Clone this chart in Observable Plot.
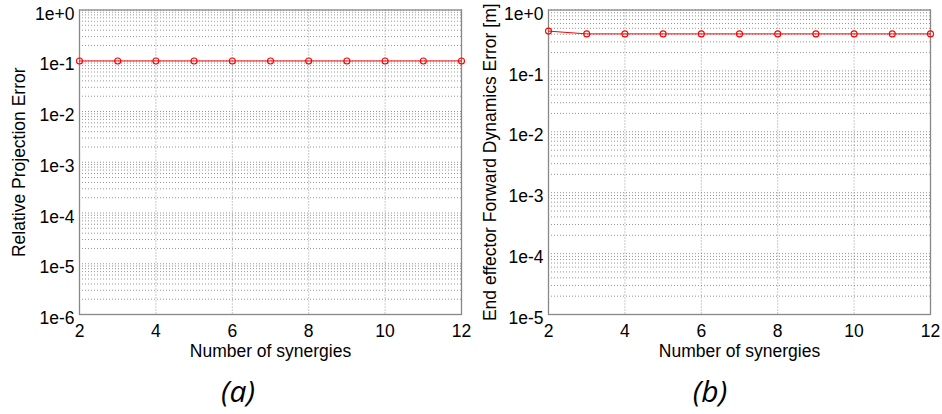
<!DOCTYPE html>
<html><head><meta charset="utf-8">
<script src="https://cdn.jsdelivr.net/npm/d3@7"></script>
<script src="https://cdn.jsdelivr.net/npm/@observablehq/plot@0.6"></script>
<style>
body{margin:0;background:#fff;}
#wrap{position:relative;width:942px;height:414px;}
.panel{position:absolute;top:0;}
.cap{position:absolute;top:371px;font-family:"Open Sans",sans-serif;font-style:italic;font-size:30px;line-height:40px;transform:translateX(-50%);color:#000;}
</style></head>
<body><div id="wrap"></div>
<script>
const synergies = [2,3,4,5,6,7,8,9,10,11,12];
const projErr = [0.099,0.099,0.099,0.099,0.099,0.099,0.099,0.099,0.099,0.099,0.099];
const fdErr = [0.45,0.405,0.405,0.405,0.405,0.405,0.405,0.405,0.405,0.405,0.405];
const xTicks = [2,4,6,8,10,12];
const yTicksA = [1e-6,1e-5,1e-4,1e-3,1e-2,1e-1,1];
const yTicksB = [1e-5,1e-4,1e-3,1e-2,1e-1,1];
const labelA = "Relative Projection Error";
const labelB = "End effector Forward Dynamics Error [m]";
const xLabel = "Number of synergies";
const captions = ["(a)","(b)"];

function minors(majors){
  const out=[];
  for(let i=0;i<majors.length-1;i++) for(let k=1;k<10;k++) out.push(majors[i]*k);
  out.push(majors[majors.length-1]);
  return out;
}
const fmt = d => { const e=Math.round(Math.log10(d)); return "1e"+(e>=0?"+"+e:e); };

function panel(values, yTicks, ylabel, ml, mr){
  const data = synergies.map((s,i)=>({x:s,y:values[i]}));
  return Plot.plot({
    width:471, height:365,
    marginLeft:ml, marginRight:mr, marginTop:9.5, marginBottom:51,
    style:{fontFamily:"'Liberation Sans', Arial, sans-serif", fontSize:"17.5px", color:"#000", background:"#fff"},
    x:{domain:[2,12]},
    y:{type:"log", domain:[yTicks[0], yTicks[yTicks.length-1]]},
    marks:[
      Plot.ruleY(minors(yTicks), {stroke:"#8a8a8a", strokeDasharray:"1,2", strokeWidth:0.9}),
      Plot.ruleX(xTicks, {stroke:"#8a8a8a", strokeDasharray:"1,2", strokeWidth:0.9}),
      Plot.frame({stroke:"#888", strokeWidth:1.3}),
      Plot.axisX({ticks:xTicks, tickSize:0, tickPadding:10, label:xLabel, labelAnchor:"center", labelArrow:"none", labelOffset:42}),
      Plot.axisY({ticks:yTicks, tickFormat:fmt, tickSize:0, tickPadding:5, dy:4, label:null}),
      Plot.axisY({ticks:[], label:ylabel, labelAnchor:"center", labelArrow:"none", labelOffset: ml-12}),
      Plot.line(data, {x:"x", y:"y", stroke:"#f00", strokeWidth:1}),
      Plot.dot(data, {x:"x", y:"y", r:3, stroke:"#f00", fill:"none", strokeWidth:1.1})
    ]
  });
}
const wrap = document.getElementById("wrap");
const pa = panel(projErr, yTicksA, labelA, 79, 10);
pa.classList.add("panel"); pa.style.left="0px";
const pb = panel(fdErr, yTicksB, labelB, 77, 12);
pb.classList.add("panel"); pb.style.left="471px";
wrap.appendChild(pa); wrap.appendChild(pb);
[[238,captions[0]],[710,captions[1]]].forEach(([x,t])=>{
  const d=document.createElement("div"); d.className="cap"; d.style.left=x+"px"; d.textContent=t; wrap.appendChild(d);
});
</script></body></html>
